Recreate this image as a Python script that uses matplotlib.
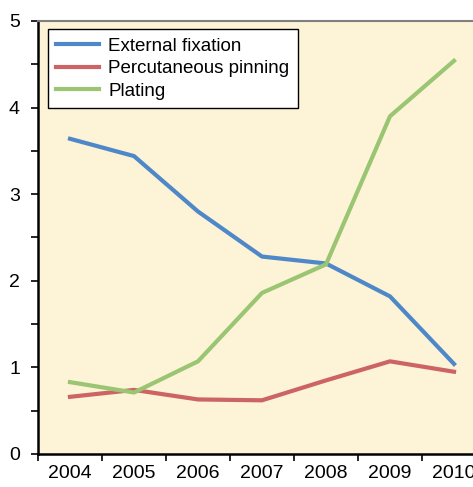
import numpy as np
import matplotlib.pyplot as plt

plt.rcParams['font.family'] = ['Liberation Sans', 'DejaVu Sans']

years = ['2004', '2005', '2006', '2007', '2008', '2009', '2010']
external_fixation = [3.64, 3.44, 2.80, 2.28, 2.20, 1.82, 1.04]
percutaneous_pinning = [0.66, 0.74, 0.63, 0.62, 0.85, 1.07, 0.95]
plating = [0.83, 0.71, 1.07, 1.86, 2.19, 3.90, 4.54]

fig = plt.figure(figsize=(4.73, 4.87), dpi=100)
# axes run past the right edge, like the cropped original
ax = fig.add_axes([38 / 473, 33 / 487, 448 / 473, 433 / 487])
ax.set_facecolor('#fdf3d6')

x = np.arange(len(years))
ax.plot(x, external_fixation, color='#4f88c8', lw=3, label='External fixation')
ax.plot(x, percutaneous_pinning, color='#cc6464', lw=3, label='Percutaneous pinning')
ax.plot(x, plating, color='#9ac572', lw=3, label='Plating')

ax.set_xlim(-0.5, 6.5)
ax.set_ylim(0, 5)

ax.set_xticks(np.arange(-0.5, 6.5, 1))
ax.set_xticklabels([])
ax.set_xticks(x, minor=True)
ax.set_xticklabels(years, minor=True, fontsize=14)
ax.tick_params(axis='x', which='major', direction='out', length=5, width=1.2)
ax.tick_params(axis='x', which='minor', length=0, pad=8)

ax.set_yticks(range(6))
ax.set_yticklabels([str(i) for i in range(6)], fontsize=14)
ax.set_yticks(np.arange(0.5, 5, 1), minor=True)
ax.tick_params(axis='y', which='both', direction='out', length=5, width=1.2, pad=8)

ax.spines['left'].set_linewidth(1.8)
ax.spines['bottom'].set_linewidth(1.8)
ax.spines['top'].set_color('#808080')
ax.spines['top'].set_linewidth(1.5)
ax.spines['right'].set_visible(False)

leg = ax.legend(loc='upper left', bbox_to_anchor=(10 / 448, 1 - 8 / 433), borderaxespad=0,
                fontsize=13.5, frameon=True, fancybox=False, edgecolor='black',
                framealpha=1, handlelength=2.25, handletextpad=0.5, labelspacing=0.3,
                borderpad=0.45)
leg.get_frame().set_linewidth(1.0)

plt.savefig('out.png', dpi=100)
